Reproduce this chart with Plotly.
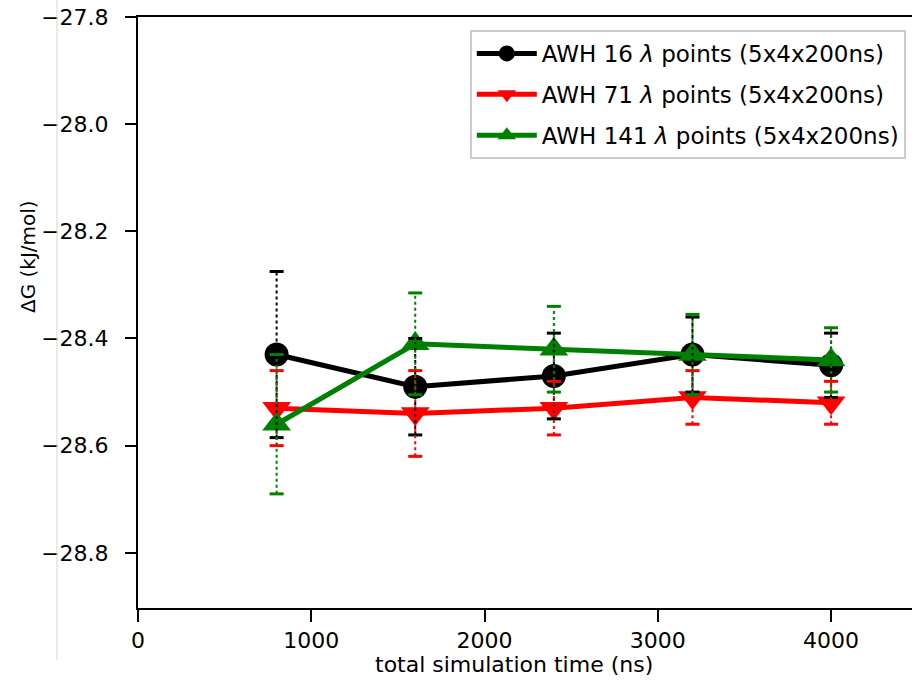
import plotly.graph_objects as go

# Free-energy estimates vs total simulation time for three AWH setups
time_ns = [800, 1600, 2400, 3200, 4000]

dg_16 = [-28.43, -28.49, -28.47, -28.43, -28.45]
err_16 = [0.155, 0.09, 0.08, 0.07, 0.06]

dg_71 = [-28.53, -28.54, -28.53, -28.51, -28.52]
err_71 = [0.07, 0.08, 0.05, 0.05, 0.04]

dg_141 = [-28.56, -28.41, -28.42, -28.43, -28.44]
err_141 = [0.13, 0.095, 0.08, 0.075, 0.06]

series = [
    ("AWH 16 <i>λ</i> points (5x4x200ns)", dg_16, err_16, "#000000", "circle", 24),
    ("AWH 71 <i>λ</i> points (5x4x200ns)", dg_71, err_71, "#ff0000", "triangle-down", 25),
    ("AWH 141 <i>λ</i> points (5x4x200ns)", dg_141, err_141, "#008000", "triangle-up", 25),
]

x_ticks = [0, 1000, 2000, 3000, 4000]
y_ticks = [-27.8, -28.0, -28.2, -28.4, -28.6, -28.8]

FONT = "DejaVu Sans, Liberation Sans, sans-serif"

fig = go.Figure()

# data lines with markers
for i, (name, y, e, color, symbol, msize) in enumerate(series):
    fig.add_trace(go.Scatter(
        x=time_ns, y=y, mode="lines+markers", name=name,
        legendgroup=f"g{i}",
        line=dict(color=color, width=5),
        marker=dict(symbol=symbol, size=msize, color=color, line=dict(width=0)),
    ))

# dotted error bars with caps, drawn above all the lines
for i, (name, y, e, color, symbol, msize) in enumerate(series):
    sx, sy = [], []
    for xv, yv, ev in zip(time_ns, y, e):
        sx += [xv, xv, None]
        sy += [yv - ev, yv + ev, None]
    fig.add_trace(go.Scatter(
        x=sx, y=sy, mode="lines", legendgroup=f"g{i}", showlegend=False,
        line=dict(color=color, width=2, dash="dot"), hoverinfo="skip",
    ))
    cx = time_ns + time_ns
    cy = [yv - ev for yv, ev in zip(y, e)] + [yv + ev for yv, ev in zip(y, e)]
    fig.add_trace(go.Scatter(
        x=cx, y=cy, mode="markers", legendgroup=f"g{i}", showlegend=False,
        marker=dict(symbol="line-ew", size=10, line=dict(color=color, width=3)),
        hoverinfo="skip",
    ))

fig.update_layout(
    width=912, height=680,
    margin=dict(l=138, r=0, t=17, b=72),
    paper_bgcolor="white", plot_bgcolor="white",
    font=dict(family=FONT, size=22, color="#000000"),
    showlegend=True,
    legend=dict(
        x=0.992, xanchor="right", y=0.978, yanchor="top",
        bgcolor="white", bordercolor="#cccccc", borderwidth=2,
        font=dict(family=FONT, size=23), itemwidth=60,
        tracegroupgap=8, traceorder="grouped",
    ),
    xaxis=dict(
        range=[0, 4467], tickvals=x_ticks, ticktext=[str(v) for v in x_ticks],
        showgrid=False, zeroline=False, showline=True, linecolor="black",
        linewidth=2, mirror=True, ticks="outside", ticklen=12, tickwidth=2,
        tickcolor="black", tickfont=dict(family=FONT, size=22),
    ),
    yaxis=dict(
        range=[-28.903, -27.8], tickvals=y_ticks,
        ticktext=[f"−{abs(v):.1f}" for v in y_ticks],
        showgrid=False, zeroline=False, showline=True, linecolor="black",
        linewidth=2, mirror=False, ticks="outside", ticklen=11, tickwidth=2,
        tickcolor="black", tickfont=dict(family=FONT, size=22),
        ticklabelstandoff=12,
    ),
    annotations=[
        dict(text="ΔG (kJ/mol)", xref="paper", yref="paper",
             x=-0.142, y=0.594, xanchor="center", yanchor="middle",
             textangle=-90, showarrow=False, font=dict(family=FONT, size=20)),
        dict(text="total simulation time (ns)", xref="paper", yref="paper",
             x=0.486, y=-0.0964, xanchor="center", yanchor="middle",
             showarrow=False, font=dict(family=FONT, size=22)),
    ],
    shapes=[
        dict(type="line", xref="paper", yref="paper",
             x0=-0.1047, x1=-0.1047, y0=1.03, y1=-0.088,
             line=dict(color="#d6d6d6", width=1)),
    ],
)

fig.write_html("out.html")
